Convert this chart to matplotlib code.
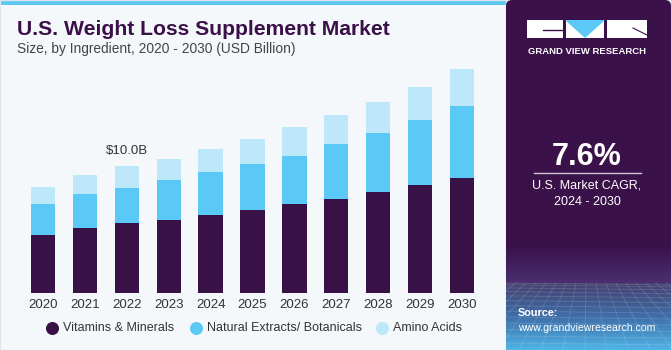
import numpy as np
import matplotlib
matplotlib.use('Agg')
import matplotlib.pyplot as plt
from matplotlib.patches import Rectangle, FancyBboxPatch, Polygon

# data (USD billion)
years = ['2020', '2021', '2022', '2023', '2024', '2025', '2026', '2027', '2028', '2029', '2030']
vitamins = [4.58, 5.10, 5.50, 5.79, 6.13, 6.58, 7.03, 7.45, 8.00, 8.55, 9.11]
botanicals = [2.45, 2.74, 2.80, 3.10, 3.40, 3.58, 3.82, 4.29, 4.61, 5.13, 5.69]
amino = [1.34, 1.50, 1.70, 1.72, 1.85, 2.03, 2.24, 2.32, 2.48, 2.63, 2.90]
series_names = ['Vitamins & Minerals', 'Natural Extracts/ Botanicals', 'Amino Acids']
annot_year = '2022'
annot_text = '$10.0B'
cagr = '7.6%'

c_purple = '#381147'
c_blue = '#5bc9f6'
c_light = '#bce8f9'
bg = '#f4f8fb'
panel = '#3a1149'

plt.rcParams['font.family'] = ['Liberation Sans', 'DejaVu Sans']

W, H = 671, 350
fig = plt.figure(figsize=(W / 100, H / 100), dpi=100)
fig.patch.set_facecolor(bg)

# overlay axes in pixel coordinates for decorations
deco = fig.add_axes([0, 0, 1, 1])
deco.set_zorder(0)

deco.add_patch(Rectangle((0, 0), 506, 5, color='#5bc8f0', lw=0))
deco.add_patch(Rectangle((0, 0), 506, H, fill=False, ec='#dde6ee', lw=1))
deco.add_patch(FancyBboxPatch((506, 0), W - 506, H, boxstyle='round,pad=0,rounding_size=6',
                              fc=panel, ec='none'))
# gradient at bottom of panel (haze above the horizon, blue floor below)
haze = matplotlib.colors.LinearSegmentedColormap.from_list('h', [panel, '#4a2f70'])
deco.imshow(np.linspace(0, 1, 50)[:, None], extent=(506, W, 283, 245), cmap=haze,
            aspect='auto', origin='upper', zorder=1)
floor = matplotlib.colors.LinearSegmentedColormap.from_list('f', ['#44406f', '#3f6ea8', '#4fb4e6'])
deco.imshow(np.linspace(0, 1, 100)[:, None], extent=(506, W, 350, 283), cmap=floor,
            aspect='auto', origin='upper', zorder=1)
for k in range(14):
    y = 283 + (k / 13) ** 1.4 * 67
    deco.plot([506, W], [y, y + 2], color='white', alpha=0.15, lw=0.6, zorder=2)
for k in range(-6, 20):
    x0 = 506 + k * 10
    deco.plot([x0, 587 + (x0 - 587) * 2.2], [283, 350], color='white', alpha=0.15, lw=0.6, zorder=2)
deco.set_xlim(0, W)
deco.set_ylim(H, 0)
deco.axis('off')

# logo
deco.add_patch(Rectangle((527, 20), 36, 18, color='white', lw=0, zorder=3))
deco.add_patch(Rectangle((566, 20), 38, 18, color='white', lw=0, zorder=3))
deco.add_patch(Polygon([[565, 20], [605, 20], [585, 38]], closed=True, color='#5bc8f5', lw=0, zorder=4))
deco.add_patch(Rectangle((607, 20), 40, 18, color='white', lw=0, zorder=3))
deco.plot([543, 563], [30, 30], color=panel, lw=1, zorder=5)
deco.plot([633, 647], [28, 35], color=panel, lw=0.8, zorder=5)
deco.text(587, 51, 'GRAND VIEW RESEARCH', color='white', fontsize=6.8, fontweight='bold',
          ha='center', va='center', zorder=5)

deco.text(587, 157, cagr, color='white', fontsize=22, fontweight='bold', ha='center', va='center', zorder=5)
deco.plot([534, 641], [173, 173], color='#cfc6d6', lw=1, zorder=5)
deco.text(587, 186, 'U.S. Market CAGR,', color='white', fontsize=9, ha='center', va='center', zorder=5)
deco.text(587, 202, '2024 - 2030', color='white', fontsize=9, ha='center', va='center', zorder=5)
deco.text(518, 313, 'Source:', color='white', fontsize=7.8, fontweight='bold', ha='left', va='center', zorder=5)
deco.text(518, 328, 'www.grandviewresearch.com', color='white', fontsize=7.6, ha='left', va='center', zorder=5)

# titles
deco.text(17, 35, 'U.S. Weight Loss Supplement Market', color='#3b1048', fontsize=15.2,
          fontweight='bold', ha='left', va='baseline', zorder=5)
deco.text(17, 53, 'Size, by Ingredient, 2020 - 2030 (USD Billion)', color='#444444', fontsize=9.9,
          ha='left', va='baseline', zorder=5)

# main chart axes: baseline at y=293 px
ax = fig.add_axes([22 / W, 57 / H, 462 / W, 233 / H])
ax.set_zorder(2)
ax.patch.set_alpha(0)
x = np.arange(len(years))
w = 0.58
v = np.array(vitamins)
b = np.array(botanicals)
a = np.array(amino)
ax.bar(x, v, w, color=c_purple, label=series_names[0])
ax.bar(x, b, w, bottom=v, color=c_blue, label=series_names[1])
ax.bar(x, a, w, bottom=v + b, color=c_light, label=series_names[2])
ax.set_xlim(-0.501, 10.525)
ax.set_ylim(0, 233 / 12.66)
ax.set_xticks(x)
ax.set_xticklabels(years, fontsize=9.5, color='#333333')
ax.tick_params(axis='x', length=0, pad=4)
ax.set_yticks([])
for s in ax.spines.values():
    s.set_visible(False)

i = years.index(annot_year)
ax.text(x[i], v[i] + b[i] + a[i] + 0.75, annot_text, ha='center', va='bottom', fontsize=9.5, color='#333333')

# legend drawn in pixel coordinates
leg_x = [52, 196, 382]
cols = [c_purple, c_blue, c_light]
for lx, col, name in zip(leg_x, cols, series_names):
    deco.scatter([lx], [328], s=70, color=col, zorder=5)
    deco.text(lx + 11, 328, name, fontsize=9, color='#333333', ha='left', va='center', zorder=5)

fig.savefig('out.png', dpi=100, facecolor=bg)
